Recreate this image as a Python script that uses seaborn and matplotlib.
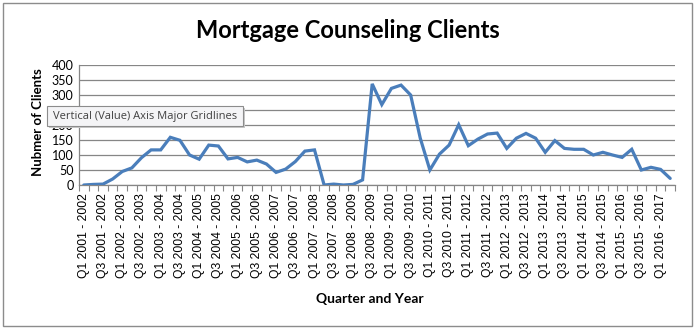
import matplotlib
matplotlib.use("Agg")
import matplotlib.pyplot as plt
from matplotlib.patches import Rectangle
from matplotlib.ticker import FixedLocator, NullFormatter
from matplotlib.transforms import Bbox
import numpy as np
import pandas as pd
import seaborn as sns

# Fiscal years and quarters on the category axis
fiscal_years = list(range(2001, 2017))
quarter_names = ["Q1", "Q2", "Q3", "Q4"]
n_quarters = 62  # Q1 2001 - 2002 through Q2 2016 - 2017

# Clients counseled each quarter
clients = [
    0, 2, 3, 20, 45, 57, 91, 117, 117, 159, 149, 100, 86, 133, 130, 87,
    92, 77, 83, 70, 42, 53, 78, 113, 117, 0, 3, 0, 2, 17, 337, 268,
    322, 333, 300, 156, 50, 103, 133, 201, 131, 153, 170, 173, 122, 156,
    172, 156, 109, 148, 122, 119, 119, 100, 109, 100, 92, 119, 50, 59,
    52, 22,
]

quarters = [f"{q} {y} - {y + 1}" for y in fiscal_years for q in quarter_names][:n_quarters]

df = pd.DataFrame({"quarter": quarters, "clients": clients})
df["position"] = np.arange(len(df))

W, H = 696, 330
sns.set_theme(style="white")
plt.rcParams["font.family"] = ["Lato", "DejaVu Sans"]
for key in ["text.color", "axes.labelcolor", "xtick.labelcolor", "ytick.labelcolor"]:
    plt.rcParams[key] = "black"

fig = plt.figure(figsize=(W / 100, H / 100), dpi=100)
ax = fig.add_axes([79 / W, 1 - 185 / H, (675 - 79) / W, (185 - 65) / H])

sns.lineplot(data=df, x="position", y="clients", ax=ax, color="#4A7EBB",
             linewidth=2.3, solid_joinstyle="miter", zorder=3)

# hover label box (figure pixels from the top-left)
tip_x0, tip_y0, tip_x1, tip_y1 = 47, 106, 243, 126

ax.set_xlim(-0.5, len(df) - 0.5)
ax.set_ylim(0, 400)
y_ticks = np.arange(0, 401, 50)
ax.set_yticks(y_ticks)
# the 250 label sits entirely under the hover label
ax.set_yticklabels(["" if v == 250 else str(v) for v in y_ticks])
ax.yaxis.grid(True, color="#868686", linewidth=0.9)
ax.xaxis.grid(False)
ax.tick_params(axis="y", length=0, pad=4, labelsize=9)

# labels every other quarter, tick marks on category boundaries
label_pos = df["position"][::2].to_numpy()
ax.set_xticks(label_pos)
ax.set_xticklabels(df["quarter"][::2], rotation=90,
                   fontdict={"family": "Liberation Sans", "size": 8.7})
ax.tick_params(axis="x", which="major", length=0, pad=6)
ax.xaxis.set_minor_locator(FixedLocator(np.arange(-0.5, len(df), 1.0)))
ax.xaxis.set_minor_formatter(NullFormatter())
ax.tick_params(axis="x", which="minor", length=4, width=0.8, color="#868686",
               direction="out", bottom=True)

for side in ["top", "right"]:
    ax.spines[side].set_visible(False)
for side in ["left", "bottom"]:
    ax.spines[side].set_color("#868686")
    ax.spines[side].set_linewidth(0.9)

ax.set_xlabel("")
ax.set_ylabel("")
fig.text(370 / W, 1 - 299 / H, "Quarter and Year", ha="center", va="center",
         fontsize=10, fontweight="bold")
fig.text(38 / W, 1 - 122 / H, "Nubmer of Clients", ha="center", va="center",
         rotation=90, fontsize=9.5, fontweight="bold")
fig.text(348 / W, 1 - 31 / H, "Mortgage Counseling Clients", ha="center",
         va="center", fontsize=17, fontweight="bold")

fig.patches.append(Rectangle(((tip_x0 + 2) / W, 1 - (tip_y1 + 2) / H),
                             (tip_x1 - tip_x0) / W, (tip_y1 - tip_y0) / H,
                             transform=fig.transFigure, facecolor="#C8C8C8",
                             edgecolor="none", zorder=9))
fig.patches.append(Rectangle((tip_x0 / W, 1 - tip_y1 / H),
                             (tip_x1 - tip_x0) / W, (tip_y1 - tip_y0) / H,
                             transform=fig.transFigure, facecolor="#F4F4F6",
                             edgecolor="#8C8C8C", linewidth=0.8, zorder=10))
fig.text((tip_x0 + tip_x1) / 2 / W, 1 - (tip_y0 + tip_y1) / 2 / H,
         "Vertical (Value) Axis Major Gridlines", ha="center", va="center",
         fontsize=8, color="#404040", family=["Open Sans", "DejaVu Sans"],
         zorder=11)

# the 200 label only shows below the hover label
visible = Bbox.from_extents(0, 0, W, H - (tip_y1 + 0.5))
for value, label in zip(y_ticks, ax.get_yticklabels()):
    if value == 200:
        label.set_clip_box(visible)
        label.set_clip_on(True)

# chart frame
fig.patches.append(Rectangle((3 / W, 1 - 326 / H), 689 / W, 323 / H,
                             transform=fig.transFigure, facecolor="none",
                             edgecolor="#8C8C8C", linewidth=1.0, zorder=0))

fig.savefig("out.png", dpi=100, facecolor="white")
